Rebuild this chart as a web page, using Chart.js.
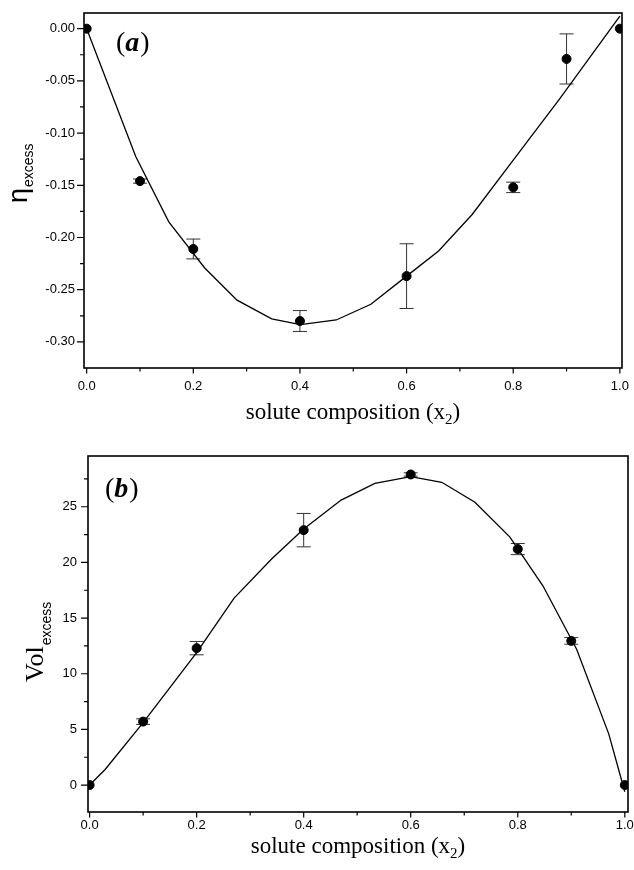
<!DOCTYPE html>
<html>
<head>
<meta charset="utf-8">
<script src="https://cdn.jsdelivr.net/npm/chart.js@4.4.1/dist/chart.umd.min.js"></script>
<style>
  html, body { margin: 0; padding: 0; background: #fff; }
  .panel { position: absolute; left: 0; width: 634px; height: 435px; }
  #panelA { top: 0; }
  #panelB { top: 435px; }
</style>
</head>
<body>
<div class="panel" id="panelA"><canvas id="chartA"></canvas></div>
<div class="panel" id="panelB"><canvas id="chartB"></canvas></div>
<script>
// solute composition of the measured mixtures
const compX = [0, 0.1, 0.2, 0.4, 0.6, 0.8, 0.9, 1.0];

// (a) viscosity excess, with error bars
const etaExcess = [0, -0.146, -0.211, -0.280, -0.237, -0.152, -0.029, 0];
const etaErr = [0, 0.002, 0.0095, 0.010, 0.031, 0.005, 0.024, 0];
// fitted curve (a)
const etaFitX = [0, 0.092, 0.154, 0.221, 0.282, 0.347, 0.401, 0.468, 0.533, 0.600, 0.660, 0.723, 0.800, 0.886, 1.0];
const etaFitY = [0, -0.1225, -0.185, -0.229, -0.260, -0.278, -0.2834, -0.279, -0.264, -0.237, -0.213, -0.178, -0.126, -0.068, 0.012];

// (b) volume excess, with error bars
const volExcess = [0, 5.7, 12.3, 22.9, 27.9, 21.2, 12.95, 0];
const volErr = [0, 0.25, 0.6, 1.5, 0.15, 0.5, 0.3, 0];
// fitted curve (b)
const volFitX = [0, 0.029, 0.1, 0.2, 0.27, 0.34, 0.40, 0.47, 0.533, 0.60, 0.658, 0.72, 0.785, 0.847, 0.91, 0.97, 1.0];
const volFitY = [0, 1.4, 5.6, 11.9, 16.8, 20.3, 23.0, 25.6, 27.1, 27.7, 27.2, 25.4, 22.3, 17.9, 12.2, 4.6, -0.6];

// tick values
const xMajor = [0, 0.2, 0.4, 0.6, 0.8, 1.0];
const xMinor = [0.1, 0.3, 0.5, 0.7, 0.9];
const etaMajor = [0, -0.05, -0.10, -0.15, -0.20, -0.25, -0.30];
const etaMinor = [-0.025, -0.075, -0.125, -0.175, -0.225, -0.275];
const volMajor = [0, 5, 10, 15, 20, 25];
const volMinor = [2.5, 7.5, 12.5, 17.5, 22.5, 27.5];

const isMajor = (list, v) => list.some(m => Math.abs(m - v) < 1e-9);
const tickFont = { family: "'Liberation Sans', Arial, sans-serif", size: 13 };

// error bars under the points
const errorBars = {
  id: 'errorBars',
  beforeDatasetsDraw(chart, args, opts) {
    const { ctx, scales: { x, y } } = chart;
    ctx.save();
    ctx.strokeStyle = '#333';
    ctx.lineWidth = 1;
    opts.values.forEach((v, i) => {
      const e = opts.errors[i];
      if (!e) return;
      const px = x.getPixelForValue(opts.xs[i]);
      const top = y.getPixelForValue(v + e);
      const bot = y.getPixelForValue(v - e);
      ctx.beginPath();
      ctx.moveTo(px, top); ctx.lineTo(px, bot);
      ctx.moveTo(px - 7, top); ctx.lineTo(px + 7, top);
      ctx.moveTo(px - 7, bot); ctx.lineTo(px + 7, bot);
      ctx.stroke();
    });
    ctx.restore();
  }
};

// frame, outward ticks and the texts with subscripts
const decor = {
  id: 'decor',
  afterDraw(chart, args, o) {
    const { ctx, chartArea: a, scales: { x, y } } = chart;
    ctx.save();
    ctx.strokeStyle = '#000';
    ctx.lineWidth = 1.6;
    ctx.strokeRect(a.left, a.top, a.right - a.left, a.bottom - a.top);

    ctx.lineWidth = 1.2;
    ctx.beginPath();
    x.ticks.forEach(t => {
      const px = x.getPixelForValue(t.value);
      const len = isMajor(o.xMajor, t.value) ? 5.5 : 3.5;
      ctx.moveTo(px, a.bottom); ctx.lineTo(px, a.bottom + len);
    });
    y.ticks.forEach(t => {
      const py = y.getPixelForValue(t.value);
      const len = isMajor(o.yMajor, t.value) ? 7 : 4;
      ctx.moveTo(a.left, py); ctx.lineTo(a.left - len, py);
    });
    ctx.stroke();

    ctx.fillStyle = '#000';
    ctx.textBaseline = 'alphabetic';
    // panel letter: "(" a ")"
    ctx.font = "28px 'Liberation Serif', serif";
    let lx = o.letterPos[0];
    const ly = o.letterPos[1];
    ctx.fillText('(', lx, ly); lx += ctx.measureText('(').width;
    ctx.font = "italic bold 28px 'Liberation Serif', serif";
    ctx.fillText(o.letter, lx, ly); lx += ctx.measureText(o.letter).width + 1;
    ctx.font = "28px 'Liberation Serif', serif";
    ctx.fillText(')', lx, ly);

    // x title with subscript 2
    const mainFont = "23px 'Liberation Serif', serif";
    const subFont = "15px 'Liberation Serif', serif";
    ctx.font = mainFont;
    const w1 = ctx.measureText('solute composition (x').width;
    const w3 = ctx.measureText(')').width;
    ctx.font = subFont;
    const w2 = ctx.measureText('2').width;
    let tx = (a.left + a.right) / 2 - (w1 + w2 + w3) / 2;
    const ty = a.bottom + o.xTitleOffset;
    ctx.font = mainFont;
    ctx.fillText('solute composition (x', tx, ty); tx += w1;
    ctx.font = subFont;
    ctx.fillText('2', tx, ty + 5); tx += w2;
    ctx.font = mainFont;
    ctx.fillText(')', tx, ty);

    // y title, rotated, with "excess" subscript
    ctx.translate(o.yTitlePos[0], o.yTitlePos[1]);
    ctx.rotate(-Math.PI / 2);
    ctx.font = o.yMainFont;
    ctx.fillText(o.yMain, 0, 0);
    const wm = ctx.measureText(o.yMain).width;
    ctx.font = "14px 'Liberation Sans', Arial, sans-serif";
    ctx.fillText('excess', wm + 1, o.ySubDrop);
    ctx.restore();
  }
};

function makeChart(id, cfg) {
  return new Chart(document.getElementById(id), {
    data: {
      datasets: [
        {
          type: 'line',
          data: cfg.fitX.map((v, i) => ({ x: v, y: cfg.fitY[i] })),
          borderColor: '#000',
          borderWidth: 1.3,
          pointRadius: 0,
          tension: 0,
          fill: false
        },
        {
          type: 'scatter',
          data: compX.map((v, i) => ({ x: v, y: cfg.values[i] })),
          backgroundColor: '#000',
          borderColor: '#000',
          pointRadius: 4.5,
          pointHoverRadius: 4.5
        }
      ]
    },
    options: {
      responsive: true,
      maintainAspectRatio: false,
      animation: false,
      events: [],
      layout: { padding: { top: cfg.padTop, right: cfg.padRight, left: 0, bottom: 0 } },
      plugins: {
        legend: { display: false },
        tooltip: { enabled: false },
        errorBars: { xs: compX, values: cfg.values, errors: cfg.errors },
        decor: cfg.decor
      },
      scales: {
        x: {
          type: 'linear',
          min: cfg.xMin,
          max: cfg.xMax,
          afterBuildTicks: s => { s.ticks = xMajor.concat(xMinor).sort((p, q) => p - q).map(v => ({ value: v })); },
          afterFit: s => { s.height = cfg.xHeight; },
          grid: { display: false, drawTicks: true, tickLength: 5.5 },
          border: { display: false },
          ticks: {
            autoSkip: false,
            maxRotation: 0,
            padding: cfg.xPad,
            color: '#000',
            font: tickFont,
            callback: v => isMajor(xMajor, v) ? v.toFixed(1) : ''
          }
        },
        y: {
          type: 'linear',
          min: cfg.yMin,
          max: cfg.yMax,
          afterBuildTicks: s => { s.ticks = cfg.yMajor.concat(cfg.yMinor).sort((p, q) => p - q).map(v => ({ value: v })); },
          afterFit: s => { s.width = cfg.yWidth; },
          grid: { display: false, drawTicks: true, tickLength: 7 },
          border: { display: false },
          ticks: {
            autoSkip: false,
            padding: cfg.yPad,
            color: '#000',
            font: tickFont,
            callback: cfg.yLabel
          }
        }
      }
    },
    plugins: [errorBars, decor]
  });
}

// Panel (a)
makeChart('chartA', {
  values: etaExcess, errors: etaErr, fitX: etaFitX, fitY: etaFitY,
  xMin: -0.005, xMax: 1.004, yMin: -0.325, yMax: 0.015,
  yMajor: etaMajor, yMinor: etaMinor,
  yLabel: v => isMajor(etaMajor, v) ? v.toFixed(2) : '',
  padTop: 13, padRight: 12, xHeight: 67, yWidth: 84, xPad: 5, yPad: 2,
  decor: {
    xMajor: xMajor, yMajor: etaMajor, letter: 'a', letterPos: [116, 51],
    xTitleOffset: 51, yTitlePos: [27, 203], yMain: '\u03b7',
    yMainFont: "27px 'Liberation Sans', Arial, sans-serif", ySubDrop: 6
  }
});

// Panel (b)
makeChart('chartB', {
  values: volExcess, errors: volErr, fitX: volFitX, fitY: volFitY,
  xMin: -0.003, xMax: 1.006, yMin: -2.42, yMax: 29.56,
  yMajor: volMajor, yMinor: volMinor,
  yLabel: v => isMajor(volMajor, v) ? String(v) : '',
  padTop: 21, padRight: 6, xHeight: 58, yWidth: 88, xPad: 0, yPad: 4,
  decor: {
    xMajor: xMajor, yMajor: volMajor, letter: 'b', letterPos: [105, 62],
    xTitleOffset: 41, yTitlePos: [43, 682 - 435], yMain: 'Vol',
    yMainFont: "26px 'Liberation Serif', serif", ySubDrop: 8
  }
});
</script>
</body>
</html>
